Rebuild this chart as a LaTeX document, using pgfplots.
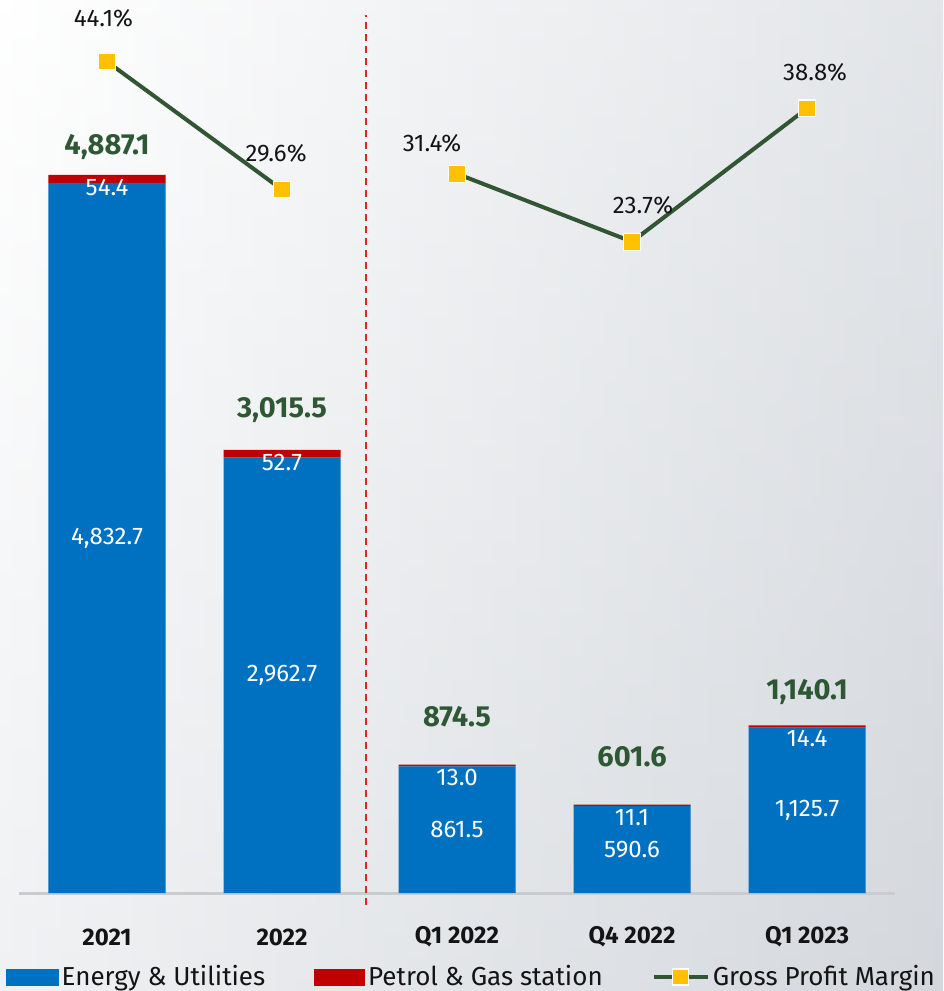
\documentclass[border=0pt]{standalone}
\usepackage{fontspec}
\setmainfont{Fira Sans}
\usepackage{pgfplots}
\usepackage{pgfplotstable}
\pgfplotsset{compat=1.18}
\definecolor{eblue}{RGB}{0,112,192}
\definecolor{pred}{RGB}{192,0,0}
\definecolor{dashred}{RGB}{222,40,40}
\definecolor{gpm}{RGB}{50,86,52}
\definecolor{gold}{RGB}{255,192,0}
\definecolor{tot}{RGB}{46,88,52}
\definecolor{bgr}{RGB}{212,216,221}
\definecolor{txt}{RGB}{20,20,20}

\pgfplotstableread{
x energy petrol total toty elab plab tlab
0 4832.7 54.4 4887.1 5078 4,832.7 54.4 4,887.1
1 2962.7 52.7 3015.5 3288 2,962.7 52.7 3,015.5
2 861.5 13.0 874.5 1198 861.5 13.0 874.5
3 590.6 11.1 601.6 926 590.6 11.1 601.6
4 1125.7 14.4 1140.1 1368 1,125.7 14.4 1,140.1
}\bardata

\pgfplotstableread{
x gpm lx ly lab
0 44.1 -0.02 49.04 44.1\%
1 29.6 0.966 33.75 29.6\%
}\lineA

\pgfplotstableread{
x gpm lx ly lab
2 31.4 1.857 34.88 31.4\%
3 23.7 3.063 27.86 23.7\%
4 38.8 4.046 42.92 38.8\%
}\lineB

\pgfplotsset{
  common/.style={
    scale only axis, width=437.5pt, height=436.5pt,
    at={(9.75pt,49pt)}, anchor=south west,
    xmin=-0.5, xmax=4.5, clip=false,
  },
}

\begin{document}
\begin{tikzpicture}
\useasboundingbox (0,0) rectangle (471.5pt,495.5pt);
\shade[left color=white, right color=bgr] (0,0) rectangle (471.5pt,495.5pt);
\shade[top color=white, bottom color=bgr, opacity=0.35] (0,0) rectangle (471.5pt,495.5pt);

% bars
\begin{axis}[common,
  ymin=0, ymax=5942,
  ybar stacked, bar width=58.5pt,
  hide y axis,
  axis x line*=bottom,
  x axis line style={draw={rgb,255:red,200;green,203;blue,207}, line width=1.5pt},
  major tick length=0pt,
  xtick=data,
  xticklabels={2021,2022,Q1 2022,Q4 2022,Q1 2023},
  xticklabel style={anchor=center, yshift=-22pt, font=\fontsize{12}{14}\selectfont\bfseries, text=txt},
]
\addplot[fill=eblue, draw=none] table[x=x, y=energy] {\bardata};
\addplot[fill=pred, draw=none] table[x=x, y=petrol] {\bardata};
\draw[dashred, line width=1.1pt, dash pattern=on 3.5pt off 2.5pt] (axis cs:1.48,-82) -- (axis cs:1.48,5976);
\end{axis}

% labels on bars
\begin{axis}[common, ymin=0, ymax=5942, hide axis]
\addplot[draw=none, mark=none, nodes near coords, point meta=explicit symbolic,
  nodes near coords style={anchor=center, text=white, font=\fontsize{12}{14}\selectfont}]
  table[x=x, y expr=\thisrow{energy}/2, meta=elab] {\bardata};
\addplot[draw=none, mark=none, nodes near coords, point meta=explicit symbolic,
  nodes near coords style={anchor=center, yshift=-6.5pt, text=white, font=\fontsize{12}{14}\selectfont}]
  table[x=x, y=total, meta=plab] {\bardata};
\addplot[draw=none, mark=none, nodes near coords, point meta=explicit symbolic,
  nodes near coords style={anchor=center, text=tot, font=\fontsize{14.5}{16}\selectfont\bfseries}]
  table[x=x, y=toty, meta=tlab] {\bardata};
\end{axis}

% gross profit margin line
\begin{axis}[common, ymin=-50.06, ymax=48.81, hide axis,
  legend columns=3,
  legend style={draw=none, fill=none, at={(0.517,-0.0962)}, anchor=center,
    font=\fontsize{13}{15}\selectfont, text=txt,
    nodes={inner xsep=1.5pt},
    /tikz/column 2/.style={column sep=23pt},
    /tikz/column 4/.style={column sep=23pt},
  },
]
\addlegendimage{legend image code/.code={\fill[eblue] (0pt,-4pt) rectangle (26pt,4pt);}}
\addlegendentry{Energy \& Utilities}
\addlegendimage{legend image code/.code={\fill[pred] (0pt,-4pt) rectangle (25pt,4pt);}}
\addlegendentry{Petrol \& Gas station}
\addplot[gpm, line width=2pt, mark=square*, mark size=4.2pt,
  mark options={fill=gold, draw=white, line width=0.6pt},
  legend image code/.code={\draw[gpm, line width=2pt] (0pt,0pt) -- (27pt,0pt);
    \node[draw=white, fill=gold, inner sep=0pt, minimum size=8pt, line width=0.6pt] at (13.5pt,0pt) {};}]
  table[x=x, y=gpm] {\lineA};
\addlegendentry{Gross Profit Margin}
\addplot[gpm, line width=2pt, mark=square*, mark size=4.2pt,
  mark options={fill=gold, draw=white, line width=0.6pt}, forget plot]
  table[x=x, y=gpm] {\lineB};
\addplot[draw=none, mark=none, nodes near coords, point meta=explicit symbolic, forget plot,
  nodes near coords style={anchor=center, text=txt, font=\fontsize{12}{14}\selectfont}]
  table[x=lx, y=ly, meta=lab] {\lineA};
\addplot[draw=none, mark=none, nodes near coords, point meta=explicit symbolic, forget plot,
  nodes near coords style={anchor=center, text=txt, font=\fontsize{12}{14}\selectfont}]
  table[x=lx, y=ly, meta=lab] {\lineB};
\end{axis}
\end{tikzpicture}
\end{document}
